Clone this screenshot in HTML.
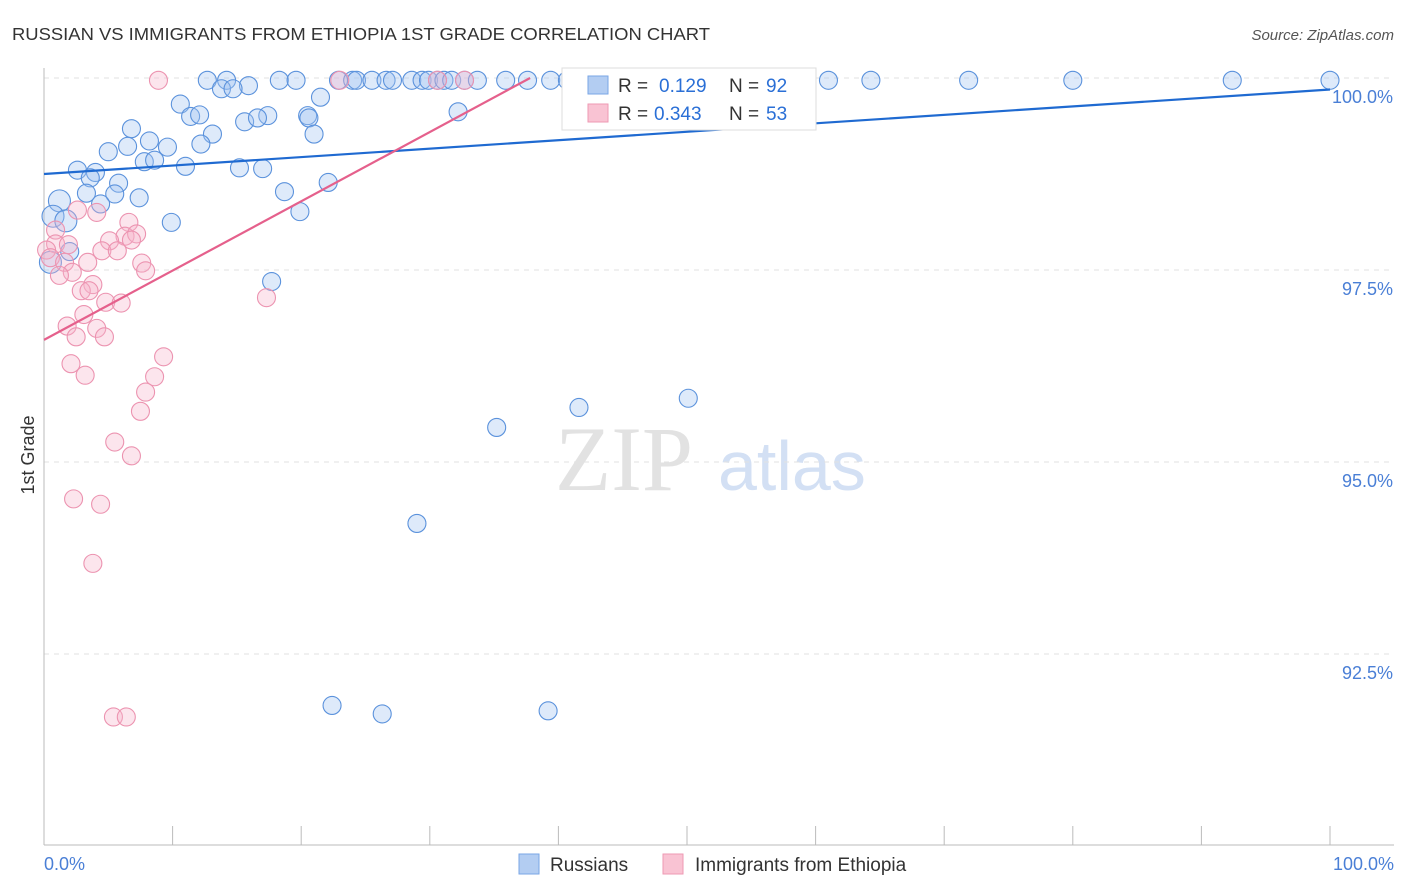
<!DOCTYPE html>
<html><head><meta charset="utf-8">
<style>
body{margin:0;background:#fff;font-family:"Liberation Sans",sans-serif;}
svg{display:block}
</style></head>
<body>
<svg id="chart" width="1406" height="892">
<text x="12" y="40" font-size="17.5" fill="#333" textLength="698" lengthAdjust="spacingAndGlyphs">RUSSIAN VS IMMIGRANTS FROM ETHIOPIA 1ST GRADE CORRELATION CHART</text>
<text x="1394" y="40" font-size="15" fill="#555" text-anchor="end" font-style="italic">Source: ZipAtlas.com</text>
<text x="34" y="455" font-size="18" fill="#333" transform="rotate(-90 34 455)" text-anchor="middle">1st Grade</text>
<g><text x="555" y="490" font-size="92" fill="#e2e2e2" font-family="Liberation Serif,serif">ZIP</text><text x="718" y="490" font-size="70" fill="#d3e0f4">atlas</text></g>
<g id="grid"></g>
<g id="pts"></g>
<g id="lines"></g>
<g>
<rect x="562" y="68" width="254" height="62" fill="#fff" stroke="#ddd"/>
<rect x="588" y="76" width="20" height="18" fill="#b3cdf2" stroke="#7aa6e6"/>
<text x="618" y="92" font-size="19" fill="#333">R =</text><text x="659" y="92" font-size="19" fill="#2a6fd6">0.129</text>
<text x="729" y="92" font-size="19" fill="#333">N =</text><text x="766" y="92" font-size="19" fill="#2a6fd6">92</text>
<rect x="588" y="104" width="20" height="18" fill="#f9c3d3" stroke="#ee9ab3"/>
<text x="618" y="120" font-size="19" fill="#333">R =</text><text x="654" y="120" font-size="19" fill="#2a6fd6">0.343</text>
<text x="729" y="120" font-size="19" fill="#333">N =</text><text x="766" y="120" font-size="19" fill="#2a6fd6">53</text>
</g>
<g>
<rect x="519" y="854" width="20" height="20" fill="#b3cdf2" stroke="#7aa6e6"/>
<text x="550" y="871" font-size="19" fill="#333">Russians</text>
<rect x="663" y="854" width="20" height="20" fill="#f9c3d3" stroke="#ee9ab3"/>
<text x="695" y="871" font-size="19" fill="#333">Immigrants from Ethiopia</text>
</g>
</svg>
<script>
const yTicks=[100,97.5,95,92.5];
const yTickLabels=["100.0%","97.5%","95.0%","92.5%"];
const blueX=[12.7,14.2,18.3,19.6,22.9,24,24.3,25.5,26.6,27.1,28.6,29.4,29.9,30.6,31.1,31.7,32.7,33.7,35.9,37.6,39.4,40.7,47.1,52.4,59.3,61,64.3,71.9,80,92.4,100,15.9,13.8,14.7,21.5,10.6,32.2,11.4,12.1,17.4,15.6,16.6,20.5,20.6,6.8,13.1,21,8.2,6.5,9.6,12.2,5,7.8,8.6,11,15.2,17,2.6,4,3.6,5.8,22.1,3.3,5.5,7.4,18.7,1.2,4.4,0.7,1.7,19.9,9.9,2.0,0.5,17.7,41.6,50.1,35.2,29,22.4,26.3,39.2];
const blueY=[99.97,99.97,99.97,99.97,99.97,99.97,99.97,99.97,99.97,99.97,99.97,99.97,99.97,99.97,99.97,99.97,99.97,99.97,99.97,99.97,99.97,99.97,99.97,99.97,99.97,99.97,99.97,99.97,99.97,99.97,99.97,99.9,99.86,99.86,99.75,99.66,99.56,99.5,99.52,99.51,99.43,99.48,99.51,99.48,99.34,99.27,99.27,99.18,99.11,99.1,99.14,99.04,98.91,98.93,98.85,98.83,98.82,98.8,98.77,98.7,98.63,98.64,98.5,98.49,98.44,98.52,98.4,98.36,98.2,98.14,98.26,98.12,97.74,97.6,97.35,95.71,95.83,95.45,94.2,91.83,91.72,91.76];
const pinkX=[8.9,23,30.6,32.7,4.1,2.6,6.6,0.9,6.3,7.2,5.1,6.8,0.9,1.9,0.2,0.5,4.5,5.7,7.6,3.4,1.6,7.9,2.2,1.2,3.8,2.9,3.5,4.8,6,17.3,3.1,1.8,4.1,2.5,4.7,2.1,3.2,9.3,8.6,7.9,7.5,5.5,6.8,2.3,4.4,3.8,5.4,6.4];
const pinkY=[99.97,99.97,99.97,99.97,98.25,98.28,98.12,98.02,97.94,97.97,97.88,97.89,97.84,97.83,97.76,97.66,97.75,97.75,97.59,97.6,97.6,97.49,97.47,97.43,97.31,97.23,97.23,97.08,97.07,97.14,96.92,96.77,96.74,96.63,96.63,96.28,96.13,96.37,96.11,95.91,95.66,95.26,95.08,94.52,94.45,93.68,91.68,91.68];
const blueLine=[98.75,99.85];
const pinkLine=[96.59,100];
const X=v=>44+v*12.86, Y=v=>78+(100-v)*76.8;
const NS="http://www.w3.org/2000/svg";
function mk(t,a,p){const e=document.createElementNS(NS,t);for(const k in a)e.setAttribute(k,a[k]);p.appendChild(e);return e;}
const grid=document.getElementById('grid');
yTicks.forEach((t,i)=>{
 const l=mk('line',{x1:44,x2:1394,y1:Y(t),y2:Y(t),stroke:'#e2e2e2','stroke-dasharray':'5,5'},grid);
 
 
 const tx=mk('text',{x:1393,y:Y(t)+25,'font-size':18,fill:'#4a7fd6','text-anchor':'end'},grid);
 tx.textContent=yTickLabels[i];
 
 
});
const ax=mk('line',{x1:44,x2:44,y1:68,y2:845,stroke:'#bbb'},grid);


const bx=mk('line',{x1:44,x2:1394,y1:845,y2:845,stroke:'#bbb'},grid);


for(let i=0;i<=10;i++){const tk=mk('line',{x1:X(i*10),x2:X(i*10),y1:826,y2:845,stroke:'#bbb'},grid);
 
 }
[["0.0%",44,"start"],["100.0%",1394,"end"]].forEach(a=>{const t=mk('text',{x:a[1],y:870,'font-size':18,fill:'#4a7fd6','text-anchor':a[2]},grid);t.textContent=a[0];
 
 });
const pts=document.getElementById('pts');
blueX.forEach((x,i)=>{const c=mk('circle',{cx:X(x),cy:Y(blueY[i]),r:(x<2?11:9),fill:'rgba(160,194,240,0.35)',stroke:'#5b92dc','stroke-width':1.1},pts);
 
 });
pinkX.forEach((x,i)=>{const c=mk('circle',{cx:X(x),cy:Y(pinkY[i]),r:9,fill:'rgba(247,180,202,0.35)',stroke:'#ec93b0','stroke-width':1.1},pts);
 
 });
const lines=document.getElementById('lines');
const bl=mk('line',{x1:X(0),y1:Y(blueLine[0]),x2:X(100),y2:Y(blueLine[1]),stroke:'#1f6ad1','stroke-width':2.2},lines);


const pl=mk('line',{x1:X(0),y1:Y(pinkLine[0]),x2:X(37.8),y2:Y(pinkLine[1]),stroke:'#e5608c','stroke-width':2.2},lines);


</script>
</body></html>
